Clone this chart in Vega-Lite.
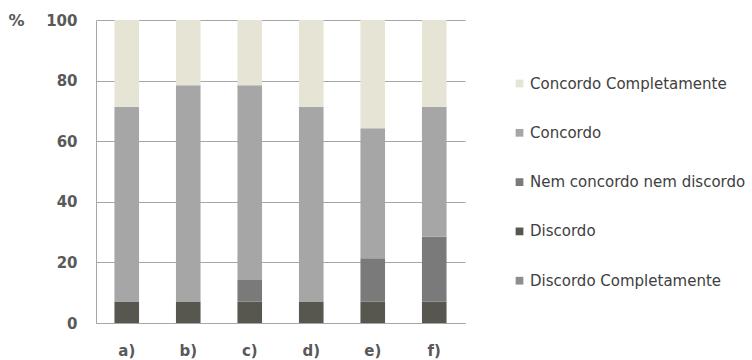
{
  "$schema": "https://vega.github.io/schema/vega-lite/v6.json",
  "autosize": "none",
  "width": 369,
  "height": 303,
  "padding": {"left": 96, "top": 20, "right": 287, "bottom": 37},
  "background": "white",
  "config": {
    "view": {"stroke": null},
    "font": "DejaVu Sans"
  },
  "data": {
    "values": [
      {"item": "a)", "resposta": "Discordo Completamente", "nivel": 1, "pct": 0},
      {"item": "a)", "resposta": "Discordo", "nivel": 2, "pct": 7.1},
      {"item": "a)", "resposta": "Nem concordo nem discordo", "nivel": 3, "pct": 0},
      {"item": "a)", "resposta": "Concordo", "nivel": 4, "pct": 64.3},
      {"item": "a)", "resposta": "Concordo Completamente", "nivel": 5, "pct": 28.6},
      {"item": "b)", "resposta": "Discordo Completamente", "nivel": 1, "pct": 0},
      {"item": "b)", "resposta": "Discordo", "nivel": 2, "pct": 7.1},
      {"item": "b)", "resposta": "Nem concordo nem discordo", "nivel": 3, "pct": 0},
      {"item": "b)", "resposta": "Concordo", "nivel": 4, "pct": 71.4},
      {"item": "b)", "resposta": "Concordo Completamente", "nivel": 5, "pct": 21.5},
      {"item": "c)", "resposta": "Discordo Completamente", "nivel": 1, "pct": 0},
      {"item": "c)", "resposta": "Discordo", "nivel": 2, "pct": 7.1},
      {"item": "c)", "resposta": "Nem concordo nem discordo", "nivel": 3, "pct": 7.1},
      {"item": "c)", "resposta": "Concordo", "nivel": 4, "pct": 64.3},
      {"item": "c)", "resposta": "Concordo Completamente", "nivel": 5, "pct": 21.5},
      {"item": "d)", "resposta": "Discordo Completamente", "nivel": 1, "pct": 0},
      {"item": "d)", "resposta": "Discordo", "nivel": 2, "pct": 7.1},
      {"item": "d)", "resposta": "Nem concordo nem discordo", "nivel": 3, "pct": 0},
      {"item": "d)", "resposta": "Concordo", "nivel": 4, "pct": 64.3},
      {"item": "d)", "resposta": "Concordo Completamente", "nivel": 5, "pct": 28.6},
      {"item": "e)", "resposta": "Discordo Completamente", "nivel": 1, "pct": 0},
      {"item": "e)", "resposta": "Discordo", "nivel": 2, "pct": 7.1},
      {"item": "e)", "resposta": "Nem concordo nem discordo", "nivel": 3, "pct": 14.3},
      {"item": "e)", "resposta": "Concordo", "nivel": 4, "pct": 42.9},
      {"item": "e)", "resposta": "Concordo Completamente", "nivel": 5, "pct": 35.7},
      {"item": "f)", "resposta": "Discordo Completamente", "nivel": 1, "pct": 0},
      {"item": "f)", "resposta": "Discordo", "nivel": 2, "pct": 7.1},
      {"item": "f)", "resposta": "Nem concordo nem discordo", "nivel": 3, "pct": 21.4},
      {"item": "f)", "resposta": "Concordo", "nivel": 4, "pct": 42.9},
      {"item": "f)", "resposta": "Concordo Completamente", "nivel": 5, "pct": 28.6}
    ]
  },
  "mark": {"type": "bar"},
  "encoding": {
    "x": {
      "field": "item",
      "type": "nominal",
      "scale": {"paddingInner": 0.6, "paddingOuter": 0.3},
      "axis": {
        "title": null,
        "labelAngle": 0,
        "labelFont": "DejaVu Sans",
        "labelFontSize": 15,
        "labelFontWeight": "bold",
        "labelColor": "#595959",
        "labelPadding": 20,
        "ticks": false,
        "domain": true,
        "domainColor": "#a6a6a6"
      }
    },
    "y": {
      "field": "pct",
      "type": "quantitative",
      "stack": "zero",
      "scale": {"domain": [0, 100]},
      "axis": {
        "title": "%",
        "titleAngle": 0,
        "titleX": -88,
        "titleY": 0,
        "titleAlign": "left",
        "titleBaseline": "middle",
        "titleFont": "DejaVu Sans",
        "titleFontSize": 16,
        "titleFontWeight": "bold",
        "titleColor": "#595959",
        "values": [0, 20, 40, 60, 80, 100],
        "labelFont": "DejaVu Sans",
        "labelFontSize": 15,
        "labelFontWeight": "bold",
        "labelColor": "#595959",
        "labelPadding": 19,
        "ticks": false,
        "domain": true,
        "domainColor": "#a6a6a6",
        "grid": true,
        "gridColor": "#a6a6a6",
        "gridWidth": 1
      }
    },
    "color": {
      "field": "resposta",
      "type": "nominal",
      "scale": {
        "domain": ["Concordo Completamente", "Concordo", "Nem concordo nem discordo", "Discordo", "Discordo Completamente"],
        "range": ["#e6e4d5", "#a6a6a6", "#7a7a7a", "#575750", "#8e8e8e"]
      },
      "legend": {
        "title": null,
        "orient": "none",
        "legendX": 416,
        "legendY": 56,
        "symbolType": "square",
        "symbolSize": 60,
        "symbolStrokeWidth": 0,
        "labelFont": "DejaVu Sans",
        "labelFontSize": 15,
        "labelColor": "#404040",
        "labelOffset": 3,
        "labelLimit": 300,
        "rowPadding": 33.3
      }
    },
    "order": {"field": "nivel", "type": "quantitative", "sort": "ascending"}
  }
}
